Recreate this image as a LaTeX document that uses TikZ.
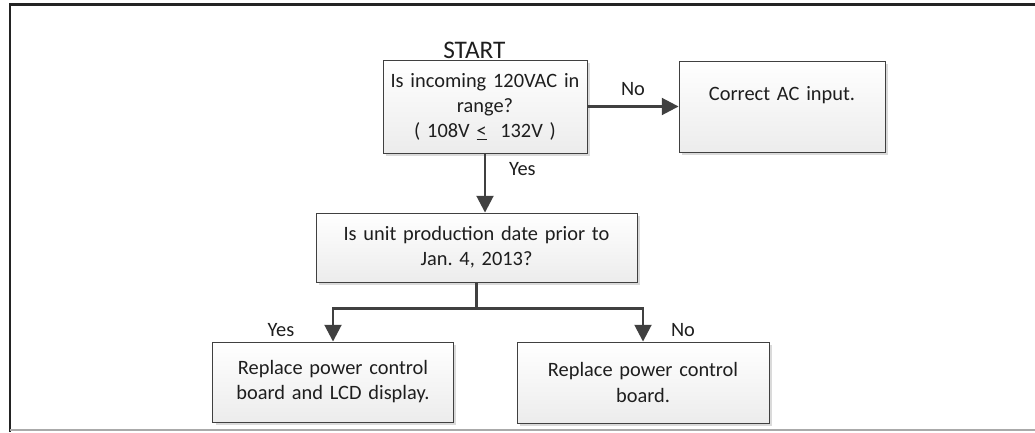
\documentclass[tikz,border=0pt]{standalone}
\usepackage{fontspec}
\setmainfont{Carlito}
\usepackage{tikz}
\usetikzlibrary{arrows.meta,positioning,shadows}
\definecolor{fcline}{RGB}{64,64,64}
\definecolor{fctext}{RGB}{30,30,30}
\definecolor{fcshade}{RGB}{236,236,236}
\definecolor{fcshadow}{RGB}{218,218,218}
\definecolor{fcframe}{RGB}{35,35,35}
\definecolor{fcbottom}{RGB}{170,170,170}
\frenchspacing
\begin{document}
\begin{tikzpicture}[
  stepbox/.style={draw=fcline, line width=0.6pt, top color=white, bottom color=fcshade,
    drop shadow={shadow xshift=0.07cm, shadow yshift=-0.07cm, fill=fcshadow, opacity=1},
    align=center, font=\fontsize{14.5}{17.8}\selectfont, text=fctext, inner sep=0pt},
  flow/.style={-{Triangle[length=0.42cm, width=0.42cm]}, fcline, line width=1.9pt},
  lbl/.style={font=\fontsize{14.5}{17.8}\selectfont, text=fctext}]

\useasboundingbox (0,0) rectangle (25.875,10.8);

% Frame
\draw[fcframe, line width=1.5pt] (0.25,0) -- (0.25,10.6875) -- (25.875,10.6875);
\draw[fcbottom, line width=1.2pt] (0.25,0.05) -- (25.875,0.05);

% Row 1
\node[font=\fontsize{18}{21}\selectfont, text=fctext] (start) at (11.86,9.55) {START};
\node[stepbox, text width=5.1cm, minimum height=2.325cm] (incoming) at (12.125,8.1375)
  {Is incoming 120VAC in\\range?\\( 108V \underline{<}~ 132V )};
\node[stepbox, text width=5.15cm, minimum height=2.275cm] (acinput) at (19.55,8.1375)
  {Correct AC input.\\~};

% Row 2
\node[stepbox, text width=8.025cm, minimum height=1.725cm] (proddate) at (11.9125,4.6125)
  {Is unit production date prior to\\Jan. 4, 2013?};

% Row 3
\node[stepbox, text width=6.0125cm, minimum height=2cm] (both) at (8.325,1.25)
  {Replace power control\\board and LCD display.};
\node[stepbox, text width=6.3cm, minimum height=2.025cm] (board) at (16.075,1.2375)
  {Replace power control\\board.};
\node[lbl] (yesboth) at (7.025,2.55) {Yes};
\node[lbl] (noboard) at (17.075,2.55) {No};

% Connecting arrows
\coordinate (split) at (proddate.south |- 0,3.0825);
\draw[flow] (incoming.east) -- (acinput.west)
  node[lbl, midway, above=0.12cm] {No};
\draw[flow] (incoming.south) -- (incoming.south |- proddate.north)
  node[lbl, pos=0.27, right=0.45cm] {Yes};
\draw[fcline, line width=1.9pt] (proddate.south) -- (split);
\draw[flow] (split) -| (both.north);
\draw[flow] (split) -| (board.north);

\end{tikzpicture}
\end{document}
